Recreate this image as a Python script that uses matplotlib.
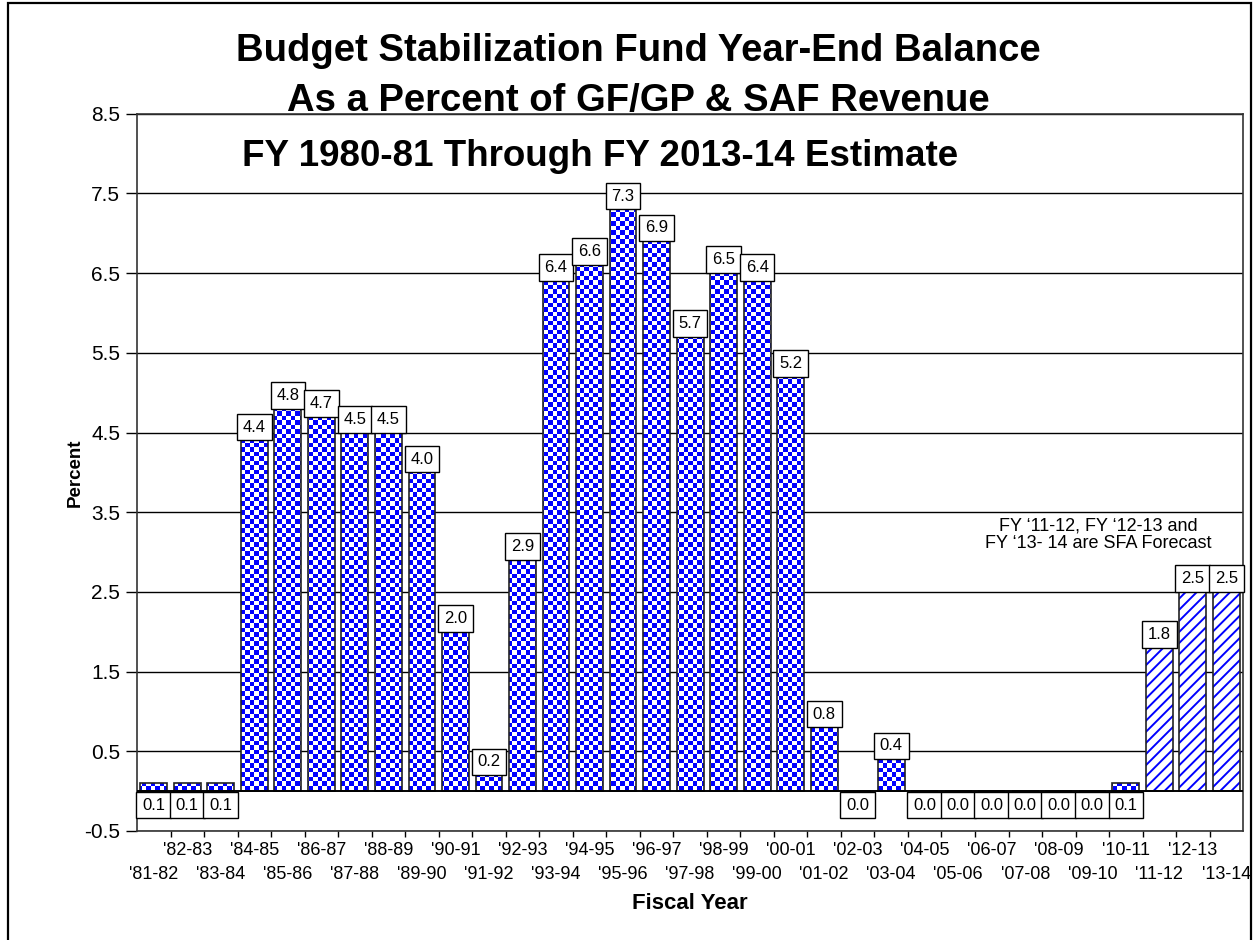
import matplotlib
matplotlib.use("Agg")
import matplotlib.pyplot as plt
import numpy as np
from matplotlib.colors import ListedColormap
from matplotlib.patches import Rectangle
from matplotlib.path import Path

plt.rcParams["font.family"] = ["Liberation Sans", "DejaVu Sans"]
plt.rcParams["hatch.linewidth"] = 1.4

FISCAL_YEARS = [
    "'81-82", "'82-83", "'83-84", "'84-85", "'85-86", "'86-87", "'87-88",
    "'88-89", "'89-90", "'90-91", "'91-92", "'92-93", "'93-94", "'94-95",
    "'95-96", "'96-97", "'97-98", "'98-99", "'99-00", "'00-01", "'01-02",
    "'02-03", "'03-04", "'04-05", "'05-06", "'06-07", "'07-08", "'08-09",
    "'09-10", "'10-11", "'11-12", "'12-13", "'13-14",
]
PERCENT = [
    0.1, 0.1, 0.1, 4.4, 4.8, 4.7, 4.5, 4.5, 4.0, 2.0, 0.2, 2.9, 6.4, 6.6,
    7.3, 6.9, 5.7, 6.5, 6.4, 5.2, 0.8, 0.0, 0.4, 0.0, 0.0, 0.0, 0.0, 0.0,
    0.0, 0.1, 1.8, 2.5, 2.5,
]
N_FORECAST = 3  # last three years are SFA forecasts
Y_TICKS = [-0.5, 0.5, 1.5, 2.5, 3.5, 4.5, 5.5, 6.5, 7.5, 8.5]

BLUE = "#0000ff"
BAR_W = 0.8

fig = plt.figure(figsize=(12.57, 9.4), dpi=100)
ax = fig.add_axes([0.109, 0.116, 0.880, 0.763])

x = np.arange(len(PERCENT))
vals = np.array(PERCENT)
n_act = len(PERCENT) - N_FORECAST
xlim = (-0.5, len(PERCENT) - 0.5)
ylim = (Y_TICKS[0], Y_TICKS[-1])

# actual years: white bars, checkerboard laid on top and clipped to them
act = ax.bar(x[:n_act], vals[:n_act], width=BAR_W, color="white",
             edgecolor="none", zorder=3)
clip = Path.make_compound_path(
    *[b.get_path().transformed(b.get_patch_transform()) for b in act])
cell = 4.5  # checker cell, pixels
w_px = 0.880 * 1257
h_px = 0.763 * 940
nx, ny = int(w_px / cell), int(h_px / cell)
checker = (np.add.outer(np.arange(ny), np.arange(nx)) % 2).astype(float)
im = ax.imshow(checker, cmap=ListedColormap(["white", BLUE]),
               extent=(*xlim, *ylim), aspect="auto",
               interpolation="nearest", zorder=3.2)
im.set_clip_path(clip, ax.transData)
ax.bar(x[:n_act], vals[:n_act], width=BAR_W, fill=False,
       edgecolor="#222222", lw=1.2, zorder=3.5)

# forecast years: diagonal hatch
ax.bar(x[n_act:], vals[n_act:], width=BAR_W, color="white",
       edgecolor=BLUE, hatch="///", lw=0, zorder=3)
ax.bar(x[n_act:], vals[n_act:], width=BAR_W, fill=False,
       edgecolor="#222222", lw=1.2, zorder=3.5)

ax.axhline(0, color="black", lw=1.4, zorder=3.6)

# value labels
box = dict(boxstyle="square,pad=0.35", fc="white", ec="black", lw=1)
for xi, v in zip(x, vals):
    if v > 0.15:
        ax.annotate(f"{v:.1f}", (xi, v), xytext=(0, 4.2),
                    textcoords="offset points", ha="center", va="bottom",
                    fontsize=12, bbox=box, zorder=5)
    else:
        ax.annotate(f"{v:.1f}", (xi, 0), xytext=(0, -4.6),
                    textcoords="offset points", ha="center", va="top",
                    fontsize=12, bbox=box, zorder=5)

ax.set_xlim(*xlim)
ax.set_ylim(*ylim)
ax.set_yticks(Y_TICKS)
ax.set_yticklabels([f"{t:.1f}" for t in Y_TICKS], fontsize=15)
ax.tick_params(axis="y", length=8, width=1, pad=4)

# year labels in two staggered rows
ax.set_xticks(x[1::2])
ax.set_xticklabels(FISCAL_YEARS[1::2], fontsize=13)
ax.set_xticks(x[0::2], minor=True)
ax.set_xticklabels(FISCAL_YEARS[0::2], minor=True, fontsize=13)
ax.tick_params(axis="x", which="major", length=0, pad=8)
ax.tick_params(axis="x", which="minor", length=0, pad=25)

# short tick marks between the year columns
sec = ax.secondary_xaxis("bottom")
sec.set_xticks(np.arange(0.5, len(PERCENT) - 0.5))
sec.tick_params(axis="x", length=4, width=1, labelbottom=False)
sec.spines["bottom"].set_visible(False)

ax.yaxis.grid(True, color="black", lw=1)
ax.set_axisbelow(True)
for s in ax.spines.values():
    s.set_color("#333333")
    s.set_linewidth(1.2)

ax.set_ylabel("Percent", fontsize=13.5, fontweight="bold")
ax.yaxis.set_label_coords(-0.048, 0.5)
ax.set_xlabel("Fiscal Year", fontsize=16, fontweight="bold")
ax.xaxis.set_label_coords(0.5, -0.087)

ax.text(0.419, 0.94, "FY 1980-81 Through FY 2013-14 Estimate",
        transform=ax.transAxes, ha="center", va="center",
        fontsize=26.5, fontweight="bold")
ax.text(0.869, 0.413,
        "FY \u201811-12, FY \u201812-13 and\nFY \u201813- 14 are SFA Forecast",
        transform=ax.transAxes, ha="center", va="center", fontsize=13,
        linespacing=1.05)

fig.text(0.508, 0.946, "Budget Stabilization Fund Year-End Balance",
         ha="center", va="center", fontsize=27.5, fontweight="bold")
fig.text(0.508, 0.893, "As a Percent of GF/GP & SAF Revenue",
         ha="center", va="center", fontsize=27.5, fontweight="bold")

# outer frame round the whole chart
fig.patches.append(Rectangle((0.0064, -0.01), 0.9888, 1.007,
                             transform=fig.transFigure, fill=False,
                             ec="black", lw=1.6))

fig.savefig("out.png", dpi=100)
